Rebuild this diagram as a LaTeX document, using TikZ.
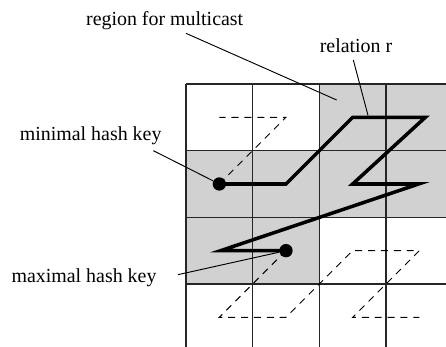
\documentclass[tikz,border=0pt]{standalone}
\usepackage{fontspec}
\setmainfont{Liberation Serif}
\begin{document}
\begin{tikzpicture}[x=1cm, y=-1cm,
    every node/.style = {font=\fontsize{8.5}{10}\selectfont},
    cell/.style = {fill=black!18},
    gridline/.style = {draw=black!85, line width=0.6pt},
    leader/.style = {draw, line width=0.4pt},
    hashdot/.style = {circle, fill, inner sep=0pt, minimum size=0.2cm},
    relation/.style = {line width=1.5pt},
    zorder/.style = {dash pattern=on 3pt off 2.5pt, line width=0.4pt}]
  \useasboundingbox (-2.79,-1.26) rectangle (3.90,3.94);
  % shaded region for multicast
  \fill[cell] (2,0) rectangle (3.9,1);
  \fill[cell] (0,1) rectangle (3.9,2);
  \fill[cell] (0,2) rectangle (2,3);
  % grid
  \foreach \i in {0,...,3} {
    \draw[gridline] (\i,0) -- (\i,3.94);
    \draw[gridline] (0,\i) -- (3.9,\i);
  }
  % hash keys
  \coordinate (minkey) at (0.5,1.5);
  \coordinate (maxkey) at (1.5,2.5);
  % z-order curve outside the relation
  \draw[zorder] (minkey) -- (1.5,0.5) -- (0.5,0.5);
  \draw[zorder] (maxkey) -- (0.5,3.5) -- (1.5,3.5) -- (2.5,2.5)
    -- (3.5,2.5) -- (2.5,3.5) -- (3.5,3.5);
  % relation r
  \draw[relation] (minkey) -- (1.5,1.5) -- (2.5,0.5) -- (3.59,0.5)
    -- (2.5,1.5) -- (3.49,1.5) -- (0.52,2.5) -- (maxkey);
  \node[hashdot] (mindot) at (minkey) {};
  \node[hashdot] (maxdot) at (maxkey) {};
  % labels
  \node (regionlbl) at (-0.32,-0.95) {region for multicast};
  \node (relationlbl) at (2.55,-0.58) {relation r};
  \node (minlbl) at (-1.43,0.78) {minimal hash key};
  \node (maxlbl) at (-1.53,2.91) {maximal hash key};
  \coordinate (regionfrom) at (0,-0.76);
  \coordinate (regionto) at (2.26,0.24);
  \coordinate (relationfrom) at (2.51,-0.36);
  \coordinate (relationto) at (2.73,0.47);
  \coordinate (minfrom) at (-0.49,1.0);
  \coordinate (maxfrom) at (-0.12,2.86);
  \draw[leader] (regionfrom) -- (regionto);
  \draw[leader] (relationfrom) -- (relationto);
  \draw[leader] (minfrom) -- (mindot);
  \draw[leader] (maxfrom) -- (maxdot);
\end{tikzpicture}
\end{document}
